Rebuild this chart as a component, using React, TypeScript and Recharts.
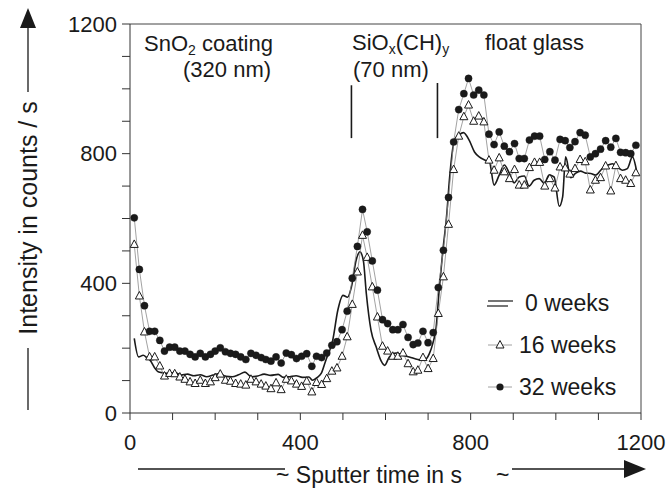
import React from 'react';
import { LineChart, Line, XAxis, YAxis, ReferenceLine } from 'recharts';

// scan times (s) shared by the 16 and 32 week profiles
const scanTimes = [
  10, 22, 34, 46, 58, 70, 81, 93, 105, 117,
  129, 141, 153, 165, 177, 189, 200, 212, 224, 236,
  248, 260, 272, 284, 296, 308, 319, 331, 343, 355,
  367, 379, 391, 403, 415, 427, 438, 450, 462, 474,
  486, 498, 510, 522, 534, 546, 557, 569, 581, 593,
  605, 617, 629, 641, 653, 665, 676, 688, 700, 712,
  724, 736, 748, 760, 772, 784, 795, 807, 819, 831,
  843, 855, 867, 879, 891, 903, 914, 926, 938, 950,
  962, 974, 986, 998, 1010, 1022, 1033, 1045, 1057, 1069,
  1081, 1093, 1105, 1117, 1129, 1141, 1152, 1164, 1176, 1188,
];

const weeks16 = [
  520, 361, 250, 173, 173, 145, 114, 122, 121, 111,
  104, 96, 91, 101, 91, 96, 109, 120, 101, 98,
  91, 89, 86, 104, 96, 89, 83, 75, 93, 72,
  104, 99, 89, 82, 98, 65, 94, 88, 106, 129,
  139, 175, 235, 335, 435, 548, 480, 389, 296, 206,
  191, 175, 175, 185, 152, 127, 132, 171, 137, 168,
  307, 420, 582, 751, 854, 914, 950, 900, 916, 898,
  780, 749, 787, 744, 723, 751, 703, 703, 757, 773,
  773, 700, 723, 694, 759, 756, 737, 754, 782, 775,
  688, 718, 726, 762, 685, 763, 723, 718, 708, 741,
];

const weeks32 = [
  602, 443, 331, 252, 252, 224, 191, 203, 203, 191,
  191, 181, 173, 184, 173, 181, 191, 201, 189, 184,
  181, 173, 165, 184, 178, 171, 165, 160, 173, 154,
  185, 180, 168, 175, 183, 144, 175, 171, 185, 209,
  220, 257, 314, 416, 514, 628, 559, 469, 379, 288,
  276, 257, 257, 273, 233, 211, 216, 252, 217, 248,
  387, 502, 665, 836, 936, 985, 1032, 981, 996, 981,
  860, 828, 867, 823, 806, 831, 785, 785, 842, 854,
  854, 782, 806, 780, 844, 840, 819, 837, 865, 857,
  790, 800, 814, 840, 820, 847, 804, 803, 800, 826,
];

// the 0 week profile is drawn as a plain line
const weeks0Times = [
  10, 20, 31, 40, 47, 59, 66, 78, 90, 105,
  120, 135, 150, 165, 180, 195, 210, 225, 240, 255,
  270, 285, 300, 315, 330, 348, 360, 375, 390, 405,
  420, 429, 440, 449, 460, 468, 476, 488, 500, 511,
  520, 531, 540, 548, 555, 566, 578, 590, 598, 609,
  625, 641, 656, 676, 691, 703, 711, 719, 726, 734,
  744, 750, 762, 773, 783, 797, 809, 820, 834, 844,
  855, 867, 879, 891, 902, 914, 926, 937, 949, 961,
  973, 984, 996, 1008, 1016, 1023, 1035, 1046, 1058, 1070,
  1082, 1093, 1109, 1121, 1133, 1144, 1156, 1168, 1180, 1190,
];

const weeks0 = [
  230, 173, 178, 170, 163, 137, 127, 124, 122, 125,
  117, 120, 115, 118, 112, 117, 122, 113, 112, 118,
  126, 112, 114, 120, 116, 119, 110, 112, 115, 110,
  111, 101, 110, 122, 163, 190, 224, 317, 363, 357,
  389, 471, 497, 470, 368, 255, 204, 160, 147, 173,
  185, 178, 173, 165, 163, 183, 214, 265, 379, 492,
  615, 718, 842, 858, 865, 840, 805, 790, 780, 775,
  703, 734, 765, 739, 710, 728, 731, 700, 718, 723,
  708, 734, 728, 638, 667, 790, 726, 739, 746, 740,
  739, 734, 754, 764, 769, 759, 749, 754, 790, 744,
];

const axisTicks = [0, 100, 200, 300, 400, 500, 600, 700, 800, 900, 1000, 1100, 1200];
const seriesNames = ['0 weeks', '16 weeks', '32 weeks'];

const FONT = '"Liberation Sans", Arial, Helvetica, sans-serif';
const INK = '#1a1a1a';

const toPoints = (times: number[], values: number[]) =>
  times.map((t, i) => ({ t, v: values[i] }));

const data0 = toPoints(weeks0Times, weeks0);
const data16 = toPoints(scanTimes, weeks16);
const data32 = toPoints(scanTimes, weeks32);

const everyFourHundred = (v: number) => (v % 400 === 0 ? String(v) : '');

const TriangleDot = (props: any) => {
  const { cx, cy, index } = props;
  if (cx == null || cy == null) return <g key={index} />;
  return (
    <polygon
      key={index}
      points={`${cx},${cy - 4.5} ${cx - 4},${cy + 3} ${cx + 4},${cy + 3}`}
      fill="#fff"
      stroke={INK}
      strokeWidth={1}
    />
  );
};

const Overlay = () => (
  <svg
    width={669}
    height={489}
    style={{ position: 'absolute', left: 0, top: 0, pointerEvents: 'none' }}
    fontFamily={FONT}
    fill={INK}
  >
    {/* y axis title with arrow */}
    <line x1={28} y1={410} x2={28} y2={348} stroke={INK} strokeWidth={1.3} />
    <text
      x={28}
      y={218}
      transform="rotate(-90 28 218)"
      textAnchor="middle"
      dominantBaseline="central"
      fontSize={25}
    >
      Intensity in counts / s
    </text>
    <line x1={28} y1={92} x2={28} y2={26} stroke={INK} strokeWidth={1.3} />
    <polygon points="20,28 36,28 28,8" fill={INK} />

    {/* x axis title with arrow */}
    <line x1={138} y1={469} x2={285} y2={469} stroke={INK} strokeWidth={1.3} />
    <text x={276} y={483} fontSize={23}>~ Sputter time in s</text>
    <text x={496} y={483} fontSize={23}>~</text>
    <line x1={512} y1={469} x2={626} y2={469} stroke={INK} strokeWidth={1.3} />
    <polygon points="624,460 624,478 646,469" fill={INK} />

    {/* layer annotations */}
    <text x={144} y={51} fontSize={22}>
      SnO<tspan fontSize={14} dy={4}>2</tspan>
      <tspan dy={-4}> coating</tspan>
    </text>
    <text x={183} y={77} fontSize={22}>(320 nm)</text>
    <text x={352} y={50} fontSize={22}>
      SiO<tspan fontSize={14} dy={4}>x</tspan>
      <tspan dy={-4}>(CH)</tspan>
      <tspan fontSize={14} dy={4}>y</tspan>
    </text>
    <text x={353} y={77} fontSize={22}>(70 nm)</text>
    <text x={485} y={50} fontSize={22}>float glass</text>

    {/* legend */}
    <line x1={488} y1={301} x2={513} y2={301} stroke={INK} strokeWidth={1.2} />
    <line x1={487} y1={306} x2={508} y2={306} stroke={INK} strokeWidth={1.2} />
    <text x={525} y={311} fontSize={23}>{seriesNames[0]}</text>

    <line x1={488} y1={345} x2={512} y2={345} stroke="#888" strokeWidth={0.8} />
    <polygon points="500,340.5 496,348 504,348" fill="#fff" stroke={INK} strokeWidth={1} />
    <text x={519} y={353} fontSize={23}>{seriesNames[1]}</text>

    <line x1={488} y1={387} x2={512} y2={387} stroke="#888" strokeWidth={0.8} />
    <circle cx={500} cy={387} r={3.6} fill={INK} />
    <text x={519} y={395} fontSize={23}>{seriesNames[2]}</text>
  </svg>
);

export default function App() {
  const tickStyle = { fontSize: 22, fill: INK, fontFamily: FONT };
  return (
    <div style={{ position: 'absolute', left: 0, top: 0, width: 669, height: 489, background: '#fff' }}>
      <LineChart width={669} height={489} margin={{ top: 24, right: 28, bottom: 0, left: 0 }}>
        <XAxis
          type="number"
          dataKey="t"
          domain={[0, 1200]}
          ticks={axisTicks}
          tickFormatter={everyFourHundred}
          interval={0}
          height={76}
          tickSize={7}
          tickMargin={14}
          stroke="#333"
          tick={tickStyle}
          allowDuplicatedCategory={false}
        />
        <YAxis
          type="number"
          dataKey="v"
          domain={[0, 1200]}
          ticks={axisTicks}
          tickFormatter={everyFourHundred}
          interval={0}
          width={130}
          tickSize={8}
          tickMargin={5}
          stroke="#333"
          tick={tickStyle}
        />
        <ReferenceLine y={1200} stroke="#444" strokeWidth={1} />
        <ReferenceLine x={1200} stroke="#444" strokeWidth={1} />
        <ReferenceLine
          segment={[{ x: 520, y: 848 }, { x: 520, y: 1011 }]}
          stroke={INK}
          strokeWidth={1.6}
        />
        <ReferenceLine
          segment={[{ x: 722, y: 848 }, { x: 722, y: 1018 }]}
          stroke={INK}
          strokeWidth={1.6}
        />
        <Line
          data={data0}
          dataKey="v"
          name={seriesNames[0]}
          type="monotone"
          stroke={INK}
          strokeWidth={1.6}
          dot={false}
          isAnimationActive={false}
        />
        <Line
          data={data16}
          dataKey="v"
          name={seriesNames[1]}
          type="linear"
          stroke="#8a8a8a"
          strokeWidth={0.8}
          dot={(p: any) => <TriangleDot {...p} />}
          isAnimationActive={false}
        />
        <Line
          data={data32}
          dataKey="v"
          name={seriesNames[2]}
          type="linear"
          stroke="#8a8a8a"
          strokeWidth={0.8}
          dot={{ r: 3.6, fill: INK, stroke: INK, strokeWidth: 0.4 }}
          isAnimationActive={false}
        />
      </LineChart>
      <Overlay />
    </div>
  );
}
